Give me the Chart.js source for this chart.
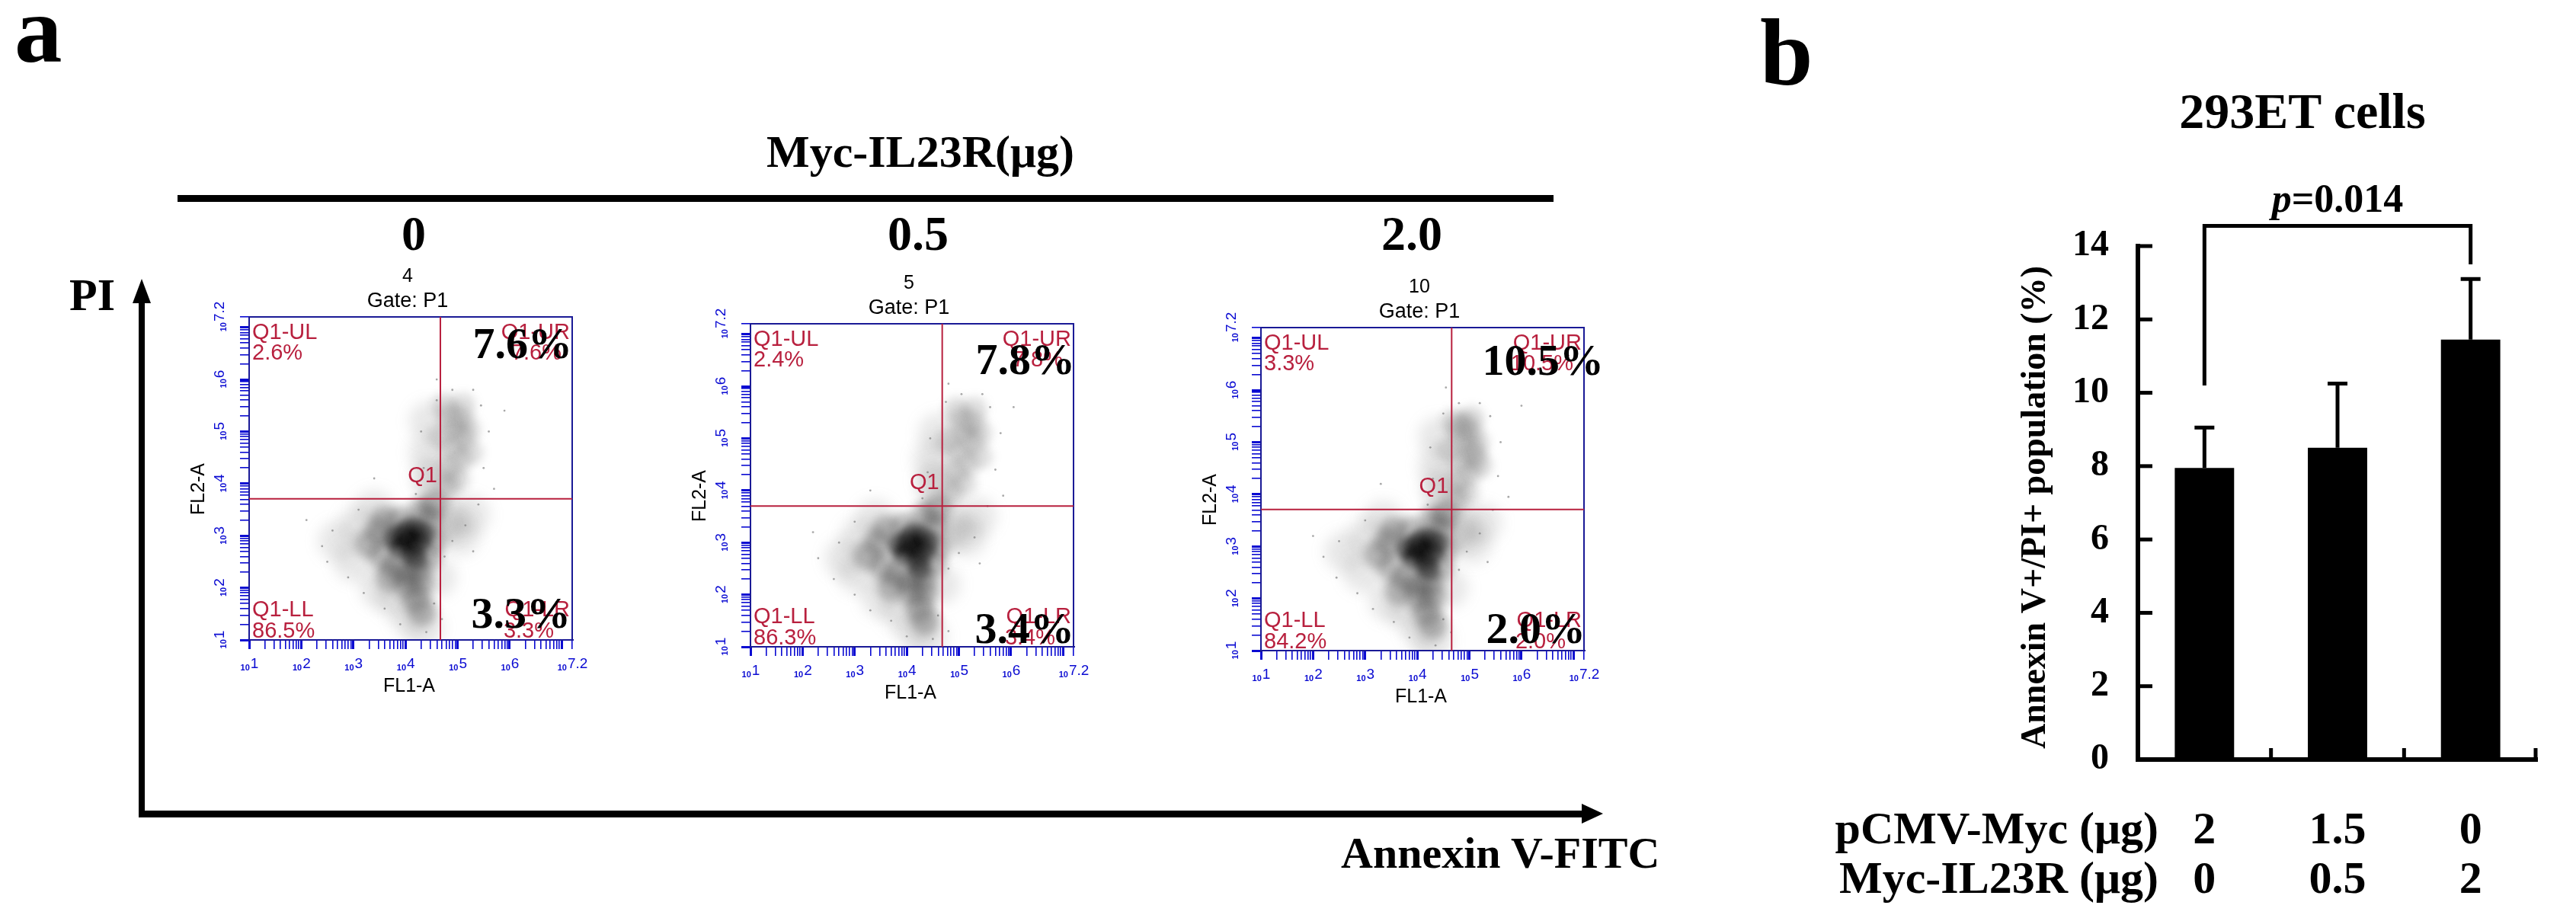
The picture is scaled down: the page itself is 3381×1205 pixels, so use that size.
<!DOCTYPE html>
<html>
<head>
<meta charset="utf-8">
<script src="https://cdn.jsdelivr.net/npm/chart.js@4.4.0/dist/chart.umd.min.js"></script>
<style>
  html, body { margin: 0; padding: 0; background: #fff; }
  #fig { position: relative; width: 3381px; height: 1205px; overflow: hidden; background: #fff; }
  #fig svg { position: absolute; left: 0; top: 0; }
  #fig canvas { position: absolute; }
  .serif { font-family: 'Liberation Serif', 'Times New Roman', serif; font-weight: bold; }
</style>
</head>
<body>
<div id="fig">
  <svg width="3381" height="1205" class="serif">
    <text x="19" y="81" font-size="125">a</text>
    <text x="2310" y="111" font-size="125">b</text>
    <text x="1208" y="219" font-size="60" text-anchor="middle">Myc-IL23R(μg)</text>
    <rect x="233" y="256" width="1806" height="9" fill="#000"/>
    <text x="543" y="328" font-size="64" text-anchor="middle">0</text>
    <text x="1205" y="328" font-size="64" text-anchor="middle">0.5</text>
    <text x="1853" y="328" font-size="64" text-anchor="middle">2.0</text>
    <text x="91" y="407" font-size="60">PI</text>
    <rect x="182" y="390" width="8" height="683" fill="#000"/>
    <polygon points="186,366 174,398 198,398" fill="#000"/>
    <rect x="182" y="1064" width="1900" height="9" fill="#000"/>
    <polygon points="2104,1068 2076,1055 2076,1081" fill="#000"/>
    <text x="1760" y="1139" font-size="58">Annexin V-FITC</text>
    <text x="3022" y="168" font-size="66" text-anchor="middle">293ET cells</text>
  </svg>
  <canvas id="flow0"></canvas>
  <canvas id="flow1"></canvas>
  <canvas id="flow2"></canvas>
  <canvas id="bars"></canvas>
</div>
<script>
// ---- panel a: flow cytometry (values in log10 units) ----
const tubeNames = ['4', '5', '10'];
const quadUL = ['2.6%', '2.4%', '3.3%'];
const quadUR = ['7.6%', '7.8%', '10.5%'];
const quadLL = ['86.5%', '86.3%', '84.2%'];
const quadLR = ['3.3%', '3.4%', '2.0%'];
const gateX = [4.67, 4.68, 4.66];
const gateY = [3.71, 3.70, 3.71];
const decadeValues = [1, 2, 3, 4, 5, 6, 7.2];
const decadeLabels = ['1', '2', '3', '4', '5', '6', '7.2'];

// dense core of the live-cell cloud
const core0 = [[3.78,2.95],[3.95,3.0],[4.1,2.92],[4.25,2.88],[4.05,3.12],[4.22,3.1],[3.9,2.78],[4.12,2.7],[4.35,3.02],[4.2,2.55]];
const core1 = [[3.85,2.95],[4.02,3.0],[4.18,2.92],[4.32,2.85],[4.1,3.15],[4.28,3.1],[3.95,2.78],[4.2,2.68],[4.4,3.0],[4.25,2.5]];
const core2 = [[3.8,2.95],[3.98,3.0],[4.12,2.92],[4.28,2.88],[4.08,3.12],[4.25,3.12],[3.92,2.78],[4.15,2.7],[4.38,3.05],[4.22,2.55]];
// grey body around the core
const body0 = [[3.3,2.85],[3.5,3.08],[3.55,2.62],[3.8,2.42],[4.0,2.3],[4.22,2.35],[4.42,2.6],[4.45,3.3],[4.3,3.45],[4.55,3.6],[3.9,3.28],[4.05,2.05],[4.28,2.1],[4.2,1.8],[4.32,1.55],[3.7,2.2],[4.5,2.9],[3.6,3.3]];
const body1 = [[3.25,2.75],[3.45,3.0],[3.55,2.55],[3.8,2.4],[4.05,2.3],[4.3,2.3],[4.48,2.6],[4.5,3.3],[4.35,3.5],[4.58,3.65],[3.95,3.3],[4.1,2.05],[4.32,2.05],[4.25,1.75],[4.35,1.5],[3.7,2.15],[4.55,2.9],[3.6,3.25]];
const body2 = [[3.25,2.85],[3.45,3.08],[3.5,2.6],[3.78,2.4],[4.0,2.28],[4.22,2.3],[4.42,2.6],[4.45,3.35],[4.3,3.5],[4.55,3.62],[3.88,3.3],[4.05,2.02],[4.28,2.05],[4.18,1.75],[4.3,1.5],[3.65,2.15],[4.5,2.95],[3.55,3.3]];
// faint halo and spill-over
const halo0 = [[2.7,2.9],[3.0,2.5],[3.1,3.2],[3.5,2.0],[3.8,1.8],[4.1,1.45],[4.35,1.25],[4.6,2.2],[4.72,3.2],[3.4,3.5],[4.6,3.95],[4.45,4.6],[4.5,4.15],[4.45,5.2],[4.9,3.3],[5.05,3.0],[5.25,3.4]];
const halo1 = [[2.8,2.7],[3.05,2.4],[3.1,3.1],[3.5,1.95],[3.85,1.7],[4.15,1.35],[4.4,1.2],[4.65,2.2],[4.75,3.2],[3.4,3.45],[4.6,4.0],[4.5,4.6],[4.55,4.2],[4.6,5.1],[4.95,3.3],[5.15,3.1],[5.35,3.5]];
const halo2 = [[2.6,2.9],[2.95,2.5],[3.05,3.2],[3.45,1.95],[3.8,1.75],[4.1,1.4],[4.3,1.2],[4.6,2.2],[4.72,3.25],[3.35,3.5],[4.55,3.95],[4.4,4.55],[4.45,4.15],[4.4,5.1],[4.9,3.35],[5.05,3.05],[5.25,3.45]];
// apoptotic cluster (upper right)
const upper0 = [[4.85,5.3],[5.05,5.25],[4.95,5.05],[5.1,4.9],[4.9,4.7],[5.05,4.5],[4.85,4.3],[5.0,4.1],[4.8,3.95],[5.2,5.05],[5.25,4.6],[4.68,4.9],[4.75,5.5],[5.1,5.5]];
const upper1 = [[5.05,5.35],[5.25,5.3],[5.1,5.1],[5.25,4.95],[5.0,4.75],[5.15,4.55],[4.95,4.35],[5.1,4.15],[4.85,3.95],[5.4,5.1],[5.4,4.65],[4.8,4.95],[4.95,5.55],[5.3,5.55]];
const upper2 = [[4.8,5.25],[5.0,5.2],[4.9,5.0],[5.05,4.85],[4.85,4.65],[5.0,4.45],[4.8,4.25],[4.95,4.05],[4.75,3.9],[5.15,5.0],[5.2,4.55],[4.62,4.85],[4.7,5.4],[5.05,5.45],[4.9,5.35],[5.1,4.7]];
// isolated events
const dots0 = [[2.4,2.8],[2.6,3.1],[2.5,2.5],[2.9,2.2],[3.2,1.9],[3.1,3.5],[3.6,1.6],[3.9,1.3],[4.4,1.15],[4.55,1.7],[4.75,2.6],[4.9,2.9],[5.15,3.2],[5.4,3.6],[5.5,4.3],[5.6,5.0],[5.45,5.5],[5.3,5.8],[4.9,5.8],[4.6,5.6],[4.3,5.0],[4.35,4.3],[4.2,3.8],[5.9,5.4],[5.3,2.7],[3.4,4.1],[2.1,3.3],[4.7,1.4],[5.7,3.9],[4.6,6.0]];
const dots1 = [[2.3,2.7],[2.7,3.0],[2.6,2.3],[3.0,2.0],[3.3,1.7],[3.0,3.4],[3.7,1.5],[4.0,1.2],[4.5,1.15],[4.6,1.6],[4.8,2.5],[5.0,2.8],[5.3,3.1],[5.55,3.7],[5.7,4.4],[5.8,5.1],[5.6,5.6],[5.45,5.85],[5.05,5.85],[4.75,5.7],[4.45,5.0],[4.4,4.35],[4.3,3.85],[6.05,5.6],[5.4,2.6],[3.3,4.0],[2.2,3.2],[4.8,1.3],[5.85,3.9],[4.8,6.05]];
const dots2 = [[2.2,2.8],[2.5,3.1],[2.45,2.4],[2.85,2.1],[3.15,1.8],[3.0,3.5],[3.55,1.55],[3.85,1.25],[4.35,1.1],[4.5,1.6],[4.8,2.55],[4.95,2.9],[5.2,3.25],[5.45,3.7],[5.55,4.35],[5.6,5.0],[5.4,5.5],[5.2,5.75],[4.8,5.75],[4.5,5.55],[4.25,4.9],[4.3,4.3],[4.2,3.8],[6.0,5.7],[5.35,2.7],[3.3,4.2],[2.0,3.2],[4.65,1.35],[5.75,3.95],[4.55,6.05]];

// ---- panel b: bar chart ----
const pcmvDose = ['2', '1.5', '0'];
const il23Dose = ['0', '0.5', '2'];
const apoptosisMean = [7.95, 8.5, 11.45];
const apoptosisSd = [1.1, 1.75, 1.65];
const sigPair = [0, 2];
const bracketTop = 14.55;
const bracketLegEnds = [10.2, 13.5];
const pValue = '=0.014';

const SERIF = "'Liberation Serif', 'Times New Roman', serif";
const SANS = "'Liberation Sans', Arial, sans-serif";
const BLUE = '#0a0ad2';
const NAVY = '#1a1a96';
const RED = '#b8203e';

// layout of the three flow plots (top-left of the plot box)
const flowBox = [[327, 416], [985, 425], [1655, 430]];
const BOX = 424;
const urShift = [[0, 54], [2, 66], [26, 62]];
const lrShift = [[-2, 16], [1, 5], [2, 10]];

const logTicks = [];
for (let d = 1; d <= 7; d++) {
  for (let k = 1; k <= 9; k++) {
    const v = d + Math.log10(k);
    if (v <= 7.2) logTicks.push(v);
  }
}
logTicks.push(7.2);

const toXY = pts => pts.map(p => ({ x: p[0], y: p[1] }));

// blur some point layers so they read as density clouds
const blurPlugin = {
  id: 'blurLayer',
  beforeDatasetDraw(chart, args) {
    const b = chart.data.datasets[args.index].blur;
    if (b) { chart.ctx.save(); chart.ctx.filter = `blur(${b}px)`; }
  },
  afterDatasetDraw(chart, args) {
    if (chart.data.datasets[args.index].blur) chart.ctx.restore();
  },
};

function logAxis(dim) {
  return {
    type: 'linear', min: 1, max: 7.2,
    afterBuildTicks: s => { s.ticks = logTicks.map(v => ({ value: v })); },
    afterFit: s => { s[dim] = 80; },
    ticks: { display: false, autoSkip: false },
    grid: {
      drawOnChartArea: false, tickLength: 12, color: BLUE,
      lineWidth: c => (c.tick && Number.isInteger(c.tick.value)) ? 3 : 1.6,
    },
    border: { color: NAVY, width: 2 },
  };
}

// "10^n" style tick label
function drawExp(ctx, x, y, exp, rotate) {
  ctx.save();
  ctx.translate(x, y);
  if (rotate) ctx.rotate(-Math.PI / 2);
  ctx.fillStyle = BLUE;
  ctx.font = `bold 11px ${SANS}`;
  const wBase = ctx.measureText('10').width;
  ctx.font = `19px ${SANS}`;
  const wExp = ctx.measureText(exp).width;
  const x0 = -(wBase + wExp) / 2;
  ctx.textBaseline = 'alphabetic';
  ctx.textAlign = 'left';
  ctx.font = `bold 11px ${SANS}`;
  ctx.fillText('10', x0, 9);
  ctx.font = `19px ${SANS}`;
  ctx.fillText(exp, x0 + wBase + 1, 6);
  ctx.restore();
}

function flowDecor(i) {
  return {
    id: 'flowDecor' + i,
    afterDraw(chart) {
      const { ctx, chartArea: a, scales: { x, y } } = chart;
      const cx = (a.left + a.right) / 2;
      ctx.save();
      ctx.strokeStyle = NAVY;
      ctx.lineWidth = 2;
      ctx.strokeRect(a.left, a.top, a.right - a.left, a.bottom - a.top);

      // quadrant gate
      const gx = x.getPixelForValue(gateX[i]);
      const gy = y.getPixelForValue(gateY[i]);
      ctx.strokeStyle = RED;
      ctx.lineWidth = 2;
      ctx.beginPath();
      ctx.moveTo(gx, a.top); ctx.lineTo(gx, a.bottom);
      ctx.moveTo(a.left, gy); ctx.lineTo(a.right, gy);
      ctx.stroke();

      decadeValues.forEach((v, k) => {
        drawExp(ctx, x.getPixelForValue(v), a.bottom + 31, decadeLabels[k], false);
        drawExp(ctx, a.left - 39, y.getPixelForValue(v), decadeLabels[k], true);
      });

      ctx.fillStyle = '#000';
      ctx.font = `25px ${SANS}`;
      ctx.textAlign = 'center';
      ctx.textBaseline = 'middle';
      ctx.fillText(tubeNames[i], cx - 4, a.top - 53);
      ctx.font = `27px ${SANS}`;
      ctx.fillText('Gate: P1', cx - 4, a.top - 20);
      ctx.font = `25px ${SANS}`;
      ctx.fillText('FL1-A', cx - 2, a.bottom + 61);
      ctx.save();
      ctx.translate(a.left - 66, (a.top + a.bottom) / 2 + 14);
      ctx.rotate(-Math.PI / 2);
      ctx.fillText('FL2-A', 0, 0);
      ctx.restore();

      // quadrant labels
      ctx.fillStyle = RED;
      ctx.font = `29px ${SANS}`;
      ctx.textBaseline = 'alphabetic';
      ctx.textAlign = 'left';
      ctx.fillText('Q1-UL', a.left + 4, a.top + 29);
      ctx.fillText(quadUL[i], a.left + 4, a.top + 56);
      ctx.fillText('Q1-LL', a.left + 4, a.bottom - 31);
      ctx.fillText(quadLL[i], a.left + 4, a.bottom - 3);
      ctx.textAlign = 'right';
      ctx.fillText('Q1-UR', a.right - 3, a.top + 29);
      ctx.fillText(quadUR[i], a.right - 14, a.top + 56);
      ctx.fillText('Q1-LR', a.right - 3, a.bottom - 31);
      ctx.fillText(quadLR[i], a.right - 24, a.bottom - 3);
      ctx.fillText('Q1', gx - 4, gy - 22);

      // bold summary percentages
      ctx.fillStyle = '#000';
      ctx.font = `bold 58px ${SERIF}`;
      ctx.fillText(quadUR[i], a.right + urShift[i][0], a.top + urShift[i][1]);
      ctx.fillText(quadLR[i], a.right + lrShift[i][0], a.bottom - lrShift[i][1]);
      ctx.restore();
    },
  };
}

const cores = [core0, core1, core2];
const bodies = [body0, body1, body2];
const halos = [halo0, halo1, halo2];
const uppers = [upper0, upper1, upper2];
const dots = [dots0, dots1, dots2];

flowBox.forEach(([left, top], i) => {
  const el = document.getElementById('flow' + i);
  el.width = 80 + BOX + 30;
  el.height = 70 + BOX + 80;
  el.style.left = (left - 80) + 'px';
  el.style.top = (top - 70) + 'px';
  new Chart(el, {
    type: 'scatter',
    data: {
      datasets: [
        { data: toXY(halos[i]), pointRadius: 26, backgroundColor: 'rgba(120,120,120,0.17)', blur: 9 },
        { data: toXY(bodies[i]), pointRadius: 19, backgroundColor: 'rgba(70,70,70,0.34)', blur: 6 },
        { data: toXY(uppers[i]), pointRadius: 17, backgroundColor: 'rgba(110,110,110,0.21)', blur: 6 },
        { data: toXY(cores[i]), pointRadius: 15, backgroundColor: 'rgba(10,10,10,0.55)', blur: 5 },
        { data: toXY(dots[i]), pointRadius: 1.4, backgroundColor: 'rgba(110,110,110,0.6)' },
      ],
    },
    options: {
      responsive: false,
      animation: false,
      events: [],
      layout: { padding: { top: 70, right: 30, left: 0, bottom: 0 } },
      elements: { point: { borderWidth: 0, hoverRadius: 0 } },
      plugins: { legend: { display: false }, tooltip: { enabled: false } },
      scales: { x: logAxis('height'), y: logAxis('width') },
    },
    plugins: [blurPlugin, flowDecor(i)],
  });
});

// error bars, inner ticks, significance bracket and dose rows
const barDecor = {
  id: 'barDecor',
  afterDraw(chart) {
    const { ctx, chartArea: a, scales: { x, y } } = chart;
    const bars = chart.getDatasetMeta(0).data;
    ctx.save();
    ctx.strokeStyle = '#000';
    ctx.fillStyle = '#000';
    ctx.lineWidth = 5;
    ctx.lineCap = 'butt';

    bars.forEach((bar, i) => {
      const yTop = y.getPixelForValue(apoptosisMean[i] + apoptosisSd[i]);
      ctx.beginPath();
      ctx.moveTo(bar.x, bar.y);
      ctx.lineTo(bar.x, yTop);
      ctx.moveTo(bar.x - 13, yTop);
      ctx.lineTo(bar.x + 13, yTop);
      ctx.stroke();
    });

    // ticks point into the plot
    y.ticks.forEach(t => {
      if (t.value === 0) return;
      const py = y.getPixelForValue(t.value);
      ctx.beginPath();
      ctx.moveTo(a.left, py);
      ctx.lineTo(a.left + 19, py);
      ctx.stroke();
    });
    const step = (a.right - a.left) / pcmvDose.length;
    for (let k = 1; k <= pcmvDose.length; k++) {
      const px = Math.min(a.left + k * step, a.right - 2);
      ctx.beginPath();
      ctx.moveTo(px, a.bottom);
      ctx.lineTo(px, a.bottom - 15);
      ctx.stroke();
    }

    // bracket
    const x0 = bars[sigPair[0]].x;
    const x1 = bars[sigPair[1]].x;
    const yb = y.getPixelForValue(bracketTop);
    ctx.beginPath();
    ctx.moveTo(x0, y.getPixelForValue(bracketLegEnds[0]));
    ctx.lineTo(x0, yb);
    ctx.lineTo(x1, yb);
    ctx.lineTo(x1, y.getPixelForValue(bracketLegEnds[1]));
    ctx.stroke();

    ctx.textBaseline = 'alphabetic';
    ctx.textAlign = 'left';
    ctx.font = `italic bold 52px ${SERIF}`;
    const wp = ctx.measureText('p').width;
    ctx.font = `bold 52px ${SERIF}`;
    const wv = ctx.measureText(pValue).width;
    const px0 = (x0 + x1) / 2 - (wp + wv) / 2;
    ctx.font = `italic bold 52px ${SERIF}`;
    ctx.fillText('p', px0, yb - 19);
    ctx.font = `bold 52px ${SERIF}`;
    ctx.fillText(pValue, px0 + wp, yb - 19);

    // y title
    ctx.save();
    ctx.translate(a.left - 134, (a.top + a.bottom) / 2 + 6);
    ctx.rotate(-Math.PI / 2);
    ctx.textAlign = 'center';
    ctx.textBaseline = 'middle';
    ctx.font = `bold 46px ${SERIF}`;
    ctx.fillText('Annexin V+/PI+ population (%)', 0, 0);
    ctx.restore();

    // dose rows
    ctx.font = `bold 60px ${SERIF}`;
    ctx.textAlign = 'right';
    ctx.fillText('pCMV-Myc (μg)', a.left + 27, a.bottom + 110);
    ctx.fillText('Myc-IL23R (μg)', a.left + 27, a.bottom + 175);
    ctx.textAlign = 'center';
    bars.forEach((bar, i) => {
      ctx.fillText(pcmvDose[i], bar.x, a.bottom + 110);
      ctx.fillText(il23Dose[i], bar.x, a.bottom + 175);
    });
    ctx.restore();
  },
};

const barEl = document.getElementById('bars');
barEl.width = 1001;
barEl.height = 1005;
barEl.style.left = '2380px';
barEl.style.top = '200px';
new Chart(barEl, {
  type: 'bar',
  data: {
    labels: pcmvDose,
    datasets: [{
      data: apoptosisMean,
      backgroundColor: '#000',
      borderWidth: 0,
      barPercentage: 0.446,
      categoryPercentage: 1,
    }],
  },
  options: {
    responsive: false,
    animation: false,
    events: [],
    layout: { padding: { top: 123, right: 51, left: 0, bottom: 0 } },
    plugins: { legend: { display: false }, tooltip: { enabled: false } },
    scales: {
      x: {
        afterFit: s => { s.height = 208; },
        ticks: { display: false },
        grid: { drawOnChartArea: false, drawTicks: false },
        border: { color: '#000', width: 6 },
      },
      y: {
        min: 0, max: 14,
        afterFit: s => { s.width = 426; },
        ticks: { stepSize: 2, padding: 38, color: '#000', font: { family: SERIF, weight: 'bold', size: 48 } },
        grid: { drawOnChartArea: false, drawTicks: false },
        border: { color: '#000', width: 6 },
      },
    },
  },
  plugins: [barDecor],
});
</script>
</body>
</html>
